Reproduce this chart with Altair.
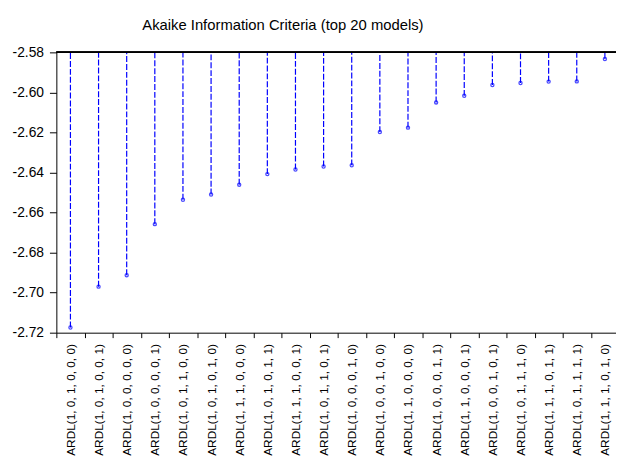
import altair as alt
import pandas as pd

models = [
    "ARDL(1, 0, 1, 0, 0, 0)", "ARDL(1, 0, 1, 0, 0, 1)", "ARDL(1, 0, 0, 0, 0, 0)",
    "ARDL(1, 0, 0, 0, 0, 1)", "ARDL(1, 0, 1, 1, 0, 0)", "ARDL(1, 0, 1, 0, 1, 0)",
    "ARDL(1, 1, 1, 0, 0, 0)", "ARDL(1, 0, 1, 0, 1, 1)", "ARDL(1, 1, 1, 0, 0, 1)",
    "ARDL(1, 0, 1, 1, 0, 1)", "ARDL(1, 0, 0, 0, 1, 0)", "ARDL(1, 0, 0, 1, 0, 0)",
    "ARDL(1, 1, 0, 0, 0, 0)", "ARDL(1, 0, 0, 0, 1, 1)", "ARDL(1, 1, 0, 0, 0, 1)",
    "ARDL(1, 0, 0, 1, 0, 1)", "ARDL(1, 0, 1, 1, 1, 0)", "ARDL(1, 1, 1, 0, 1, 1)",
    "ARDL(1, 0, 1, 1, 1, 1)", "ARDL(1, 1, 1, 0, 1, 0)",
]
aic = [
    -2.7174, -2.6970, -2.6913, -2.6658, -2.6536, -2.6510, -2.6461, -2.6408,
    -2.6385, -2.6370, -2.6364, -2.6198, -2.6176, -2.6050, -2.6017, -2.5963,
    -2.5953, -2.5946, -2.5945, -2.5833,
]
y_ticks = [-2.72, -2.70, -2.68, -2.66, -2.64, -2.62, -2.60, -2.58]
chart_title = "Akaike Information Criteria (top 20 models)"

df = pd.DataFrame({"model": models, "aic": aic})

FONT = "Liberation Sans"
BLUE = "#0000ff"

x_enc = alt.X(
    "model:N", sort=None, title=None,
    scale=alt.Scale(range=[0, 570], paddingInner=0, paddingOuter=0),
    axis=alt.Axis(
        labelAngle=-90, labelAlign="right", labelBaseline="middle",
        tickBand="extent", tickSize=5, labelPadding=6,
        labelFontSize=12, labelFont=FONT, labelColor="black",
        domainColor="black", tickColor="black", grid=False,
        labelOverlap=False, labelLimit=300,
    ),
)
y_enc = alt.Y(
    "aic:Q", title=None,
    scale=alt.Scale(domain=[-2.72, -2.58], nice=False, zero=False),
    axis=alt.Axis(
        values=y_ticks, tickSize=7, labelPadding=6,
        labelExpr="replace(format(datum.value, '.2f'), '\u2212', '-')",
        labelFontSize=14, labelFont=FONT, labelColor="black",
        domainColor="black", tickColor="black", grid=False,
    ),
)

base = alt.Chart(df)
rules = base.mark_rule(color=BLUE, strokeDash=[6, 2], strokeWidth=1.2).encode(
    x=x_enc, y=y_enc, y2=alt.datum(-2.58)
)
points = base.mark_point(shape="circle", filled=False, color=BLUE, size=10, strokeWidth=1.3).encode(
    x=x_enc, y=y_enc
)
top_border = base.mark_rule(color="black", strokeWidth=1).encode(
    x=alt.value(0), x2=alt.value(570), y=alt.value(0)
)
title_text = alt.Chart(pd.DataFrame({"t": [chart_title]})).mark_text(
    font=FONT, fontSize=15, color="black", align="center", baseline="alphabetic"
).encode(text="t:N", x=alt.value(229.5), y=alt.value(-23))

chart = alt.layer(rules, points, top_border, title_text).properties(
    width=567, height=284,
    autosize=alt.AutoSizeParams(type="none"),
    padding={"left": 49, "top": 42, "right": 0, "bottom": 124},
    background="white",
).configure_view(stroke=None)

chart.save("out.html", embed_options={"renderer": "svg", "actions": False})
